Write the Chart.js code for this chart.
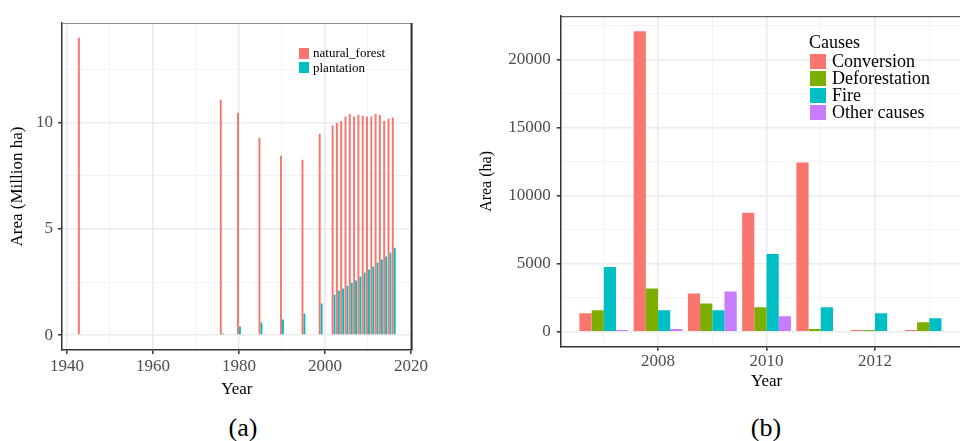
<!DOCTYPE html>
<html>
  <head>
    <meta charset="UTF-8">
    <title>forest area</title>
    <script src="https://cdn.jsdelivr.net/npm/chart.js@4/dist/chart.umd.min.js"></script>
    <style type="text/css">
      body { margin: 0; width: 960px; height: 441px; overflow: hidden; background: #fff; position: relative; font-family: "Liberation Serif", serif; }
      .box { position: absolute; top: 0; }
      .cap { position: absolute; font-size: 26px; color: #000; transform: translate(-50%, -50%); }
      .leg { position: absolute; color: #000; }
      .leg .row { position: relative; }
      .leg .sw { position: absolute; left: 0; }
    </style>
  </head>
  <body>
    <div class="box" style="left:0;width:430px;height:400px"><canvas id="chartA" width="430" height="400"></canvas></div>
    <div class="box" style="left:470px;width:510px;height:400px"><canvas id="chartB" width="510" height="400"></canvas></div>
    <div id="legA" class="leg" style="left:299px;top:46px;font-size:13px"></div>
    <div id="legB" class="leg" style="left:809px;top:32px;font-size:18px"></div>
    <div class="cap" style="left:243px;top:428px">(a)</div>
    <div class="cap" style="left:766px;top:428px">(b)</div>
    <script>
    // panel (a)
    var yearsA = [1943, 1976, 1980, 1985, 1990, 1995, 1999, 2002, 2003, 2004, 2005, 2006, 2007, 2008, 2009, 2010, 2011, 2012, 2013, 2014, 2015, 2016];
    var naturalForest = [14.0, 11.08, 10.47, 9.29, 8.45, 8.26, 9.48, 9.87, 10.0, 10.09, 10.3, 10.42, 10.3, 10.38, 10.33, 10.3, 10.3, 10.42, 10.38, 10.09, 10.19, 10.25];
    var plantation = [null, 0.08, 0.41, 0.6, 0.74, 1.02, 1.49, 1.91, 2.1, 2.2, 2.33, 2.47, 2.57, 2.76, 2.95, 3.09, 3.23, 3.42, 3.56, 3.7, 3.89, 4.12];
    var xTicksA = [1940, 1950, 1960, 1970, 1980, 1990, 2000, 2010, 2020];
    var xLabelsA = [1940, 1960, 1980, 2000, 2020];
    var yTicksA = [0, 2.5, 5, 7.5, 10, 12.5];
    var yLabelsA = [0, 5, 10];

    // panel (b)
    var yearsB = [2007, 2008, 2009, 2010, 2011, 2012, 2013];
    var causes = ["Conversion", "Deforestation", "Fire", "Other causes"];
    var conversion = [1360, 22100, 2810, 8750, 12450, 120, 120];
    var deforestation = [1580, 3170, 2080, 1790, 190, 120, 700];
    var fire = [4760, 1580, 1580, 5720, 1790, 1360, 990];
    var otherCauses = [120, 190, 2960, 1140, 50, 50, 50];
    var xTicksB = [2007, 2008, 2009, 2010, 2011, 2012, 2013];
    var xLabelsB = [2008, 2010, 2012];
    var yTicksB = [0, 2500, 5000, 7500, 10000, 12500, 15000, 17500, 20000, 22500];
    var yLabelsB = [0, 5000, 10000, 15000, 20000];

    var tickGrey = "#4D4D4D";
    var dark = "#333333";

    function pts(xs, ys) {
      var out = [];
      for (var i = 0; i < xs.length; i++) out.push({x: xs[i], y: ys[i]});
      return out;
    }

    function axis(tickVals, labelVals, extra) {
      var o = {
        type: "linear",
        offset: false,
        afterBuildTicks: function(s) {
          s.ticks = tickVals.map(function(v) { return {value: v}; });
        },
        ticks: {
          autoSkip: false, maxRotation: 0, color: tickGrey,
          font: {family: "Liberation Serif", size: 17},
          callback: function(v) { return labelVals.indexOf(v) >= 0 ? String(v) : ""; }
        },
        grid: {
          offset: false,
          tickLength: 4,
          tickWidth: 1.5,
          color: function(c) { return c.tick && labelVals.indexOf(c.tick.value) >= 0 ? "#EBEBEB" : "#F3F3F3"; },
          lineWidth: function(c) { return c.tick && labelVals.indexOf(c.tick.value) >= 0 ? 1.6 : 1; },
          tickColor: function(c) { return c.tick && labelVals.indexOf(c.tick.value) >= 0 ? dark : "rgba(0,0,0,0)"; }
        },
        border: {color: dark, width: 1.5}
      };
      for (var k in extra) o[k] = extra[k];
      return o;
    }

    var framePlugin = {
      id: "frame",
      afterDraw: function(chart, args, opts) {
        var a = chart.chartArea, ctx = chart.ctx;
        ctx.save();
        ctx.lineWidth = 1;
        ctx.strokeStyle = opts.topColor;
        ctx.beginPath(); ctx.moveTo(a.left, a.top + 0.5); ctx.lineTo(a.right, a.top + 0.5); ctx.stroke();
        if (opts.rightColor) {
          ctx.lineWidth = 2;
          ctx.strokeStyle = opts.rightColor;
          ctx.beginPath(); ctx.moveTo(a.right, a.top); ctx.lineTo(a.right, a.bottom); ctx.stroke();
        }
        ctx.restore();
      }
    };

    var chartA = new Chart(document.getElementById("chartA").getContext("2d"), {
      type: "bar",
      data: {
        datasets: [
          {label: "natural_forest", data: pts(yearsA, naturalForest), backgroundColor: "#F8766D"},
          {label: "plantation", data: pts(yearsA, plantation), backgroundColor: "#00BFC4"}
        ]
      },
      options: {
        responsive: false, animation: false,
        layout: {padding: {top: 23, right: 17, left: 0, bottom: 0}},
        datasets: {bar: {categoryPercentage: 0.9, barPercentage: 1.0}},
        plugins: {legend: {display: false}, tooltip: {enabled: false}, frame: {topColor: "#8C8C8C", rightColor: dark}},
        scales: {
          x: axis(xTicksA, xLabelsA, {
            min: 1938.85, max: 2020.15,
            afterFit: function(s) { s.height = 50; },
            title: {display: true, text: "Year", color: "#000", font: {family: "Liberation Serif", size: 17}, padding: {top: 0, bottom: 0}}
          }),
          y: axis(yTicksA, yLabelsA, {
            min: -0.7, max: 14.7,
            afterFit: function(s) { s.width = 62; },
            title: {display: true, text: "Area (Million ha)", color: "#000", font: {family: "Liberation Serif", size: 17}, padding: {top: 7, bottom: 0}}
          })
        }
      },
      plugins: [framePlugin]
    });
    chartA.options.scales.x.ticks.padding = 2;
    chartA.options.scales.y.ticks.padding = 5;
    chartA.update();

    var colorsB = ["#F8766D", "#7CAE00", "#00BFC4", "#C77CFF"];
    var seriesB = [conversion, deforestation, fire, otherCauses];
    var chartB = new Chart(document.getElementById("chartB").getContext("2d"), {
      type: "bar",
      data: {
        datasets: causes.map(function(c, i) {
          return {label: c, data: pts(yearsB, seriesB[i]), backgroundColor: colorsB[i]};
        })
      },
      options: {
        responsive: false, animation: false,
        layout: {padding: {top: 13, right: 7.6, left: 0, bottom: 0}},
        datasets: {bar: {categoryPercentage: 0.9, barPercentage: 1.0}},
        plugins: {legend: {display: false}, tooltip: {enabled: false}, frame: {topColor: dark}},
        scales: {
          x: axis(xTicksB, xLabelsB, {
            min: 2006.205, max: 2013.795,
            afterFit: function(s) { s.height = 53.3; },
            title: {display: true, text: "Year", color: "#000", font: {family: "Liberation Serif", size: 17}, padding: {top: 0, bottom: 8}}
          }),
          y: axis(yTicksB, yLabelsB, {
            min: -1105, max: 23205,
            afterFit: function(s) { s.width = 90.7; },
            title: {display: true, text: "Area (ha)", color: "#000", font: {family: "Liberation Serif", size: 16}, padding: {top: 7, bottom: 0}}
          })
        }
      },
      plugins: [framePlugin]
    });
    chartB.options.scales.x.ticks.padding = 1;
    chartB.options.scales.y.ticks.padding = 6;
    chartB.update();

    // legends built from the datasets
    function legend(el, chart, sw, rowH, gap, title) {
      var html = "";
      if (title) html += '<div style="height:21px;line-height:21px">' + title + '</div>';
      chart.data.datasets.forEach(function(d) {
        html += '<div class="row" style="height:' + rowH + 'px;line-height:' + rowH + 'px;padding-left:' + (sw[0] + gap) + 'px">' +
          '<span class="sw" style="width:' + sw[0] + 'px;height:' + sw[1] + 'px;top:' + ((rowH - sw[1]) / 2) + 'px;background:' + d.backgroundColor + '"></span>' +
          d.label + '</div>';
      });
      el.innerHTML = html;
    }
    legend(document.getElementById("legA"), chartA, [10, 11], 14.5, 4, null);
    legend(document.getElementById("legB"), chartB, [16, 15], 17, 6, "Causes");
    document.querySelectorAll("#legB .row").forEach(function(r) { r.style.marginLeft = "1px"; });
    </script>
  </body>
</html>
